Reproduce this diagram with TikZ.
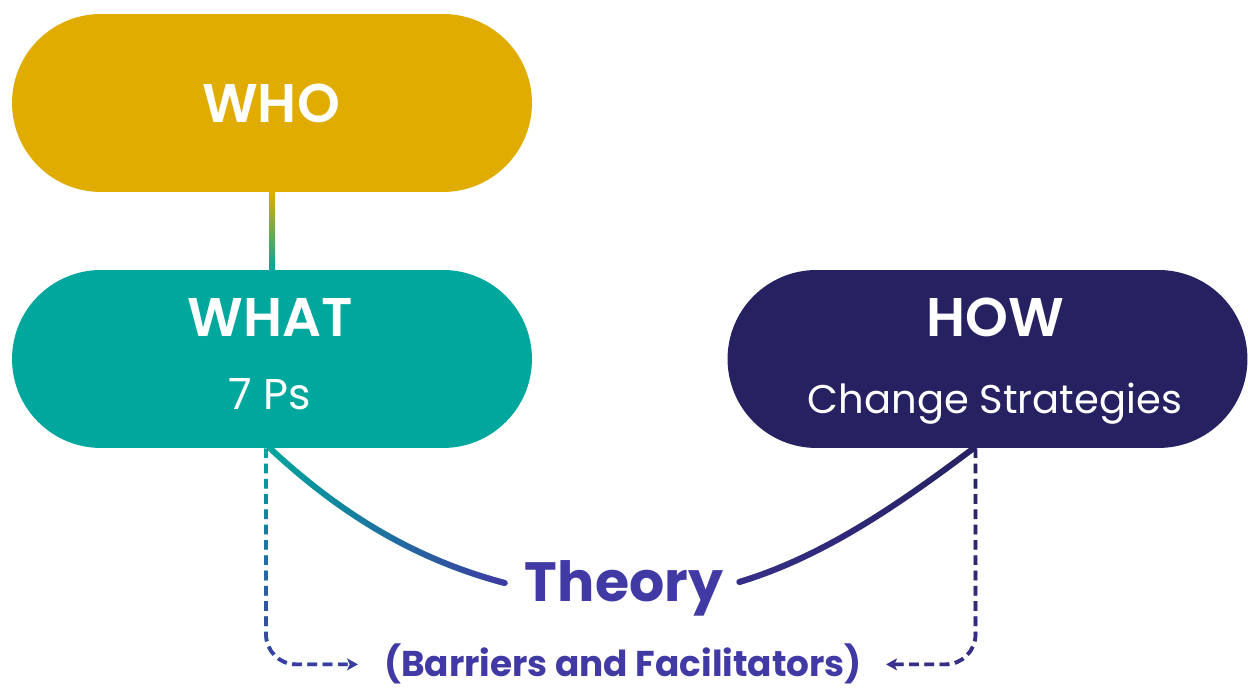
\documentclass[tikz,border=0pt]{standalone}
\usepackage{fontspec}
\setmainfont{Poppins}
\newfontfamily\popsemi{Poppins SemiBold}
\newfontfamily\popbold{Poppins Bold}
\usetikzlibrary{calc,arrows.meta,fadings}

\definecolor{whogold}{HTML}{E0AC00}
\definecolor{whatteal}{HTML}{00A79D}
\definecolor{hownavy}{HTML}{262262}
\definecolor{theoryblue}{HTML}{4139A4}

\begin{document}
\begin{tikzpicture}[
	x=0.02cm,
	y=0.02cm,
	pill/.style={rectangle, rounded corners=1.78cm, minimum width=10.4cm, minimum height=3.56cm, inner sep=0pt},
	head/.style={anchor=base, inner sep=0pt, text=white, font=\popsemi\fontsize{31}{32}\selectfont},
	sub/.style={anchor=base, inner sep=0pt, text=white, font=\fontsize{22.8}{24}\selectfont},
	link/.style={line width=3.4pt, line cap=round},
	back/.style={dash pattern=on 5.5pt off 3.2pt, line width=2.1pt, rounded corners=0.6cm, -{Stealth[length=6pt, width=6.5pt, inset=1.5pt]}}
	]
	\useasboundingbox (0,0) rectangle (1248,688);

	% the three boxes
	\node[pill, fill=whogold] (who) at (272,585) {};
	\node[pill, fill=whatteal] (what) at (272,329) {};
	\node[pill, fill=hownavy] (how) at (987.5,329) {};

	\node[head] (who-t) at (271,565) {WHO};
	\node[head] (what-t) at (270,351) {WHAT};
	\node[sub, font=\fontsize{24.5}{26}\selectfont] (what-s) at (270,278) {7 Ps};
	\node[head] (how-t) at (995,351) {HOW};
	\node[sub] (how-s) at (995,274) {Change Strategies};

	% centre labels
	\node[anchor=base, inner sep=0pt, text=theoryblue, font=\popbold\fontsize{31.5}{32}\selectfont] (theory) at (624,86) {Theory};
	\node[anchor=base, inner sep=0pt, text=theoryblue, font=\popbold\fontsize{20.4}{22}\selectfont] (barriers) at (623,11) {(Barriers and Facilitators)};

	% WHO -- WHAT
	\shade[top color=whogold, bottom color=whatteal] ($(who.south)+(-3,0)$) rectangle ($(what.north)+(3,0)$);

	% WHAT and HOW into Theory
	\coordinate (tl) at ($(theory.base west)+(-20,19)$);
	\coordinate (tr) at ($(theory.base east)+(16,20)$);
	\draw[link, whatteal] ($(what.south)+(-2,0)$) .. controls +(73,-68) and +(-87,23) .. (tl);
	\draw[link, theoryblue, path fading=west] ($(what.south)+(-2,0)$) .. controls +(73,-68) and +(-87,23) .. (tl);
	\draw[link, hownavy] ($(how.south)+(-14,0)$) .. controls +(-72,-54) and +(86,26) .. (tr);
	\draw[link, theoryblue, path fading=east, opacity=0.6] ($(how.south)+(-14,0)$) .. controls +(-72,-54) and +(86,26) .. (tr);

	% dashed returns to the barriers line
	\coordinate (bl) at ($(barriers.west)+(-26,0)$);
	\coordinate (br) at ($(barriers.east)+(24,0)$);
	\draw[back, whatteal] ($(what.south)+(-6,0)$) |- (bl);
	\draw[back, theoryblue, path fading=north] ($(what.south)+(-6,0)$) |- (bl);
	\draw[back, hownavy] ($(how.south)+(-12,0)$) |- (br);
	\draw[back, theoryblue, path fading=north, opacity=0.6] ($(how.south)+(-12,0)$) |- (br);
\end{tikzpicture}
\end{document}
